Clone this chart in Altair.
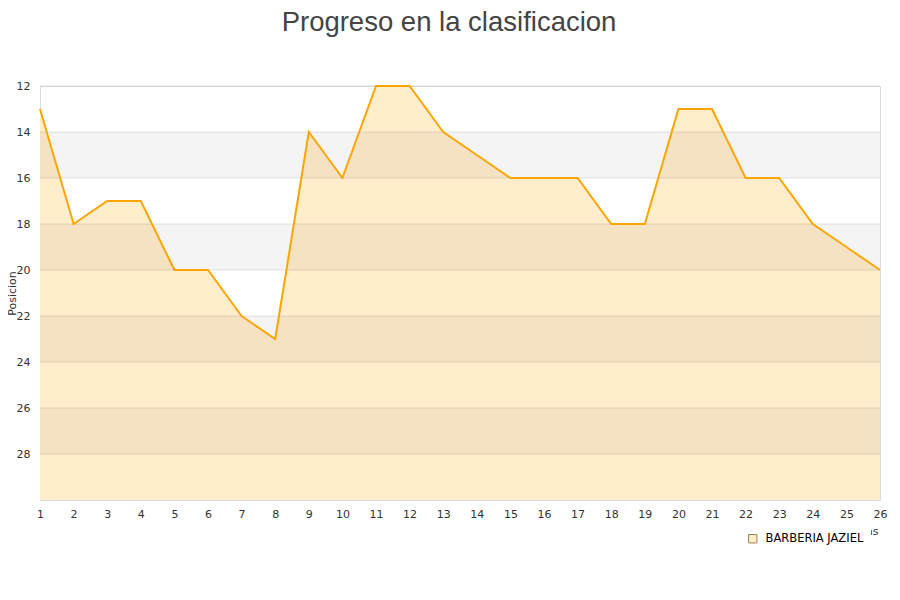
import altair as alt
import pandas as pd

jornadas = list(range(1, 27))
posicion = [13, 18, 17, 17, 20, 20, 22, 23, 14, 16, 12, 12, 14, 15, 16, 16, 16, 18, 18, 13, 13, 16, 16, 18, 19, 20]
equipo = "BARBERIA JAZIEL"
band_lo = [14, 18, 22, 26]
band_hi = [16, 20, 24, 28]
y_ticks = [12, 14, 16, 18, 20, 22, 24, 26, 28]

df = pd.DataFrame({"Jornada": jornadas, "Posicion": posicion, "Equipo": [equipo] * len(jornadas)})
bands = pd.DataFrame({"lo": band_lo, "hi": band_hi})
grid = pd.DataFrame({"y": y_ticks})

yscale = alt.Scale(domain=[12, 30], reverse=True, nice=False, zero=False)
xscale = alt.Scale(domain=[1, 26], nice=False, zero=False)

x_axis = alt.Axis(values=jornadas, title="Jornadas", grid=False, ticks=False, domain=False,
                  labelFontSize=11, labelColor="#333", labelPadding=8, labelFont="DejaVu Sans",
                  labelOverlap=False, labelFlush=False,
                  titleFont="DejaVu Sans", titleFontSize=11, titleFontWeight="normal",
                  titleColor="#333", titleX=838, titleY=34, titleAlign="right",
                  titleBaseline="alphabetic")
y_axis = alt.Axis(values=y_ticks, title="Posicion", grid=False,
                  ticks=False, domain=False, labelFontSize=11, labelColor="#333",
                  labelPadding=10, labelFont="DejaVu Sans", titleFont="DejaVu Sans",
                  titleFontSize=11, titleFontWeight="normal", titleColor="#333",
                  titleX=-23, titleY=207, titleAngle=-90, titleBaseline="bottom",
                  titleAlign="center")

area = alt.Chart(df).mark_area(opacity=1).encode(
    x=alt.X("Jornada:Q", scale=xscale, axis=x_axis),
    y=alt.Y("Posicion:Q", scale=yscale, axis=y_axis),
    y2=alt.datum(30),
    fill=alt.Fill("Equipo:N", scale=alt.Scale(range=["#ffedcc"]),
                  legend=alt.Legend(title=None, orient="none", legendX=700, legendY=440,
                                    padding=7, fillColor="white", labelOffset=7,
                                    symbolType="square", symbolSize=70, symbolStrokeColor="#9a8050",
                                    symbolStrokeWidth=1, labelFontSize=11.5, labelFont="DejaVu Sans",
                                    labelColor="#000")),
)

band_layer = alt.Chart(bands).mark_rect(color="#000000", opacity=0.045).encode(
    y=alt.Y("lo:Q", scale=yscale, axis=y_axis),
    y2="hi:Q",
)

grid_layer = alt.Chart(grid).mark_rule(color="#000000", opacity=0.1, strokeWidth=1).encode(
    y=alt.Y("y:Q", scale=yscale, axis=y_axis),
)

line = alt.Chart(df).mark_line(strokeWidth=2, color="#FFA500").encode(
    x=alt.X("Jornada:Q", scale=xscale, axis=x_axis),
    y=alt.Y("Posicion:Q", scale=yscale, axis=y_axis),
)

chart = alt.layer(area, band_layer, grid_layer, line).properties(
    width=840,
    height=414,
    title=alt.TitleParams("Progreso en la clasificacion", fontSize=27.5, font="Liberation Sans",
                          fontWeight="normal", color="#444", anchor="middle", dx=-11, offset=44),
    padding={"left": 32, "top": 78, "right": 12, "bottom": 92},
    autosize=alt.AutoSizeParams(type="none"),
).configure_view(stroke="#dddddd", strokeWidth=1).configure_axis(labelOverlap=False)

chart.save("out.html", embed_options={"renderer": "svg", "actions": False})
